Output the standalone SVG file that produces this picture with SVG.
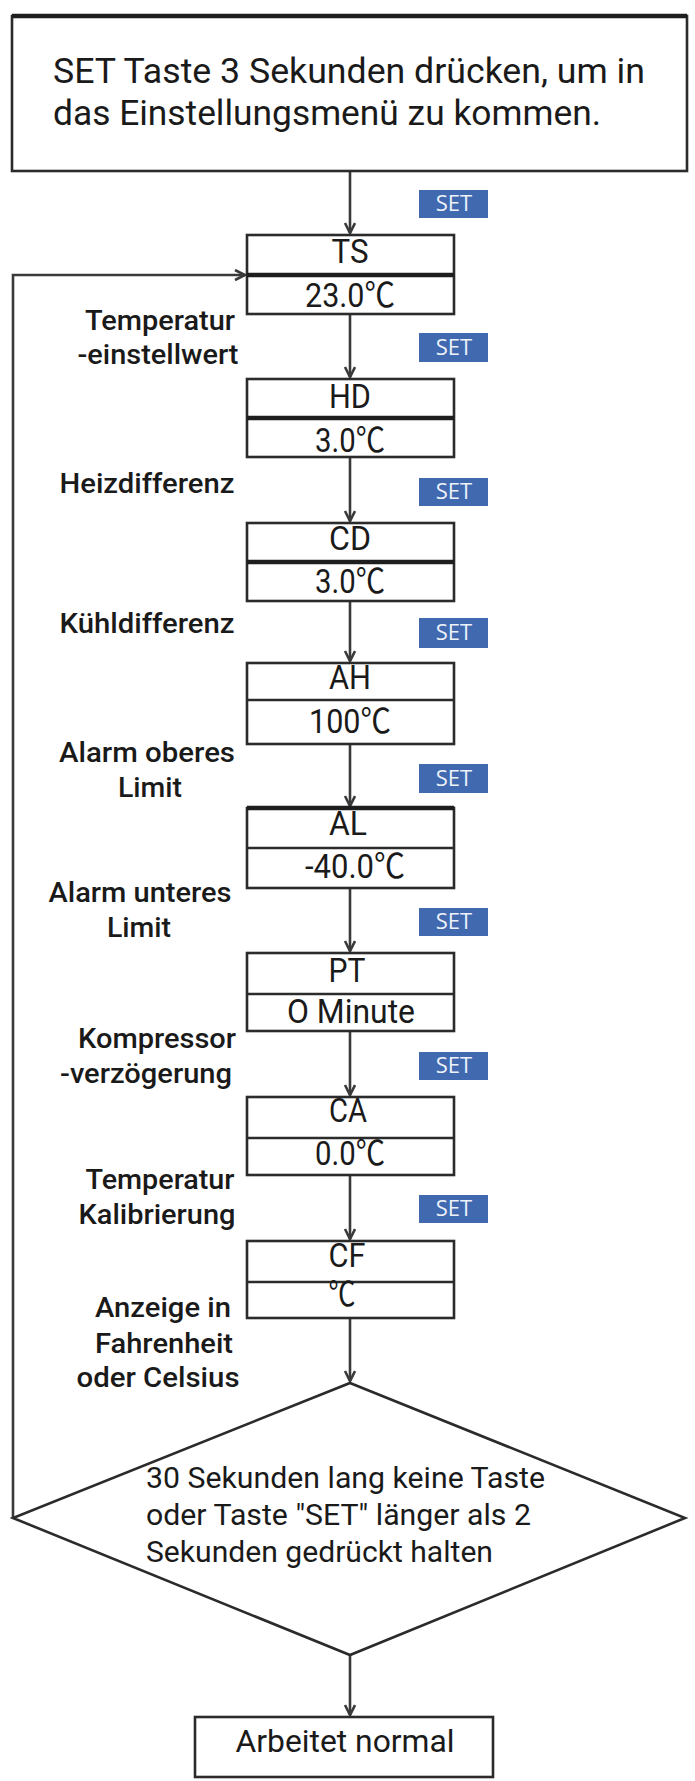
<svg xmlns="http://www.w3.org/2000/svg" width="695" height="1781" viewBox="0 0 695 1781">
<defs>
<marker id="arr" markerWidth="14" markerHeight="14" refX="11" refY="6" orient="auto" markerUnits="userSpaceOnUse">
<path d="M1,1 L11,6 L1,11" fill="none" stroke="#3a3a3a" stroke-width="2.6"/>
</marker>
</defs>
<style>
.box{fill:#fff;stroke:#2b2b2b;stroke-width:2.6}
.mid{stroke:#2b2b2b;stroke-width:2.6}
.thick{stroke:#1e1e1e;stroke-width:4.5}
.con{fill:none;stroke:#3a3a3a;stroke-width:2.6}
text{font-family:Roboto,"Liberation Sans","Noto Sans CJK SC",sans-serif;fill:#1a1a1a}
.bt{font-size:34px;text-anchor:middle}
.lb{font-size:28px;font-weight:500;text-anchor:middle}
.dt{font-size:29px}
.big{font-size:35px}
.badge{fill:#4069b0}
.st{font-family:"Open Sans","Liberation Sans",sans-serif;font-size:22px;fill:#eef2fa;text-anchor:middle}
</style>
<rect width="695" height="1781" fill="#fff"/>

<g id="connectors">
<line class="con" x1="350" y1="171" x2="350" y2="233" marker-end="url(#arr)"/>
<line class="con" x1="350" y1="314" x2="350" y2="377" marker-end="url(#arr)"/>
<line class="con" x1="350" y1="457" x2="350" y2="521" marker-end="url(#arr)"/>
<line class="con" x1="350" y1="601" x2="350" y2="661" marker-end="url(#arr)"/>
<line class="con" x1="350" y1="744" x2="350" y2="806" marker-end="url(#arr)"/>
<line class="con" x1="350" y1="888" x2="350" y2="951" marker-end="url(#arr)"/>
<line class="con" x1="350" y1="1031" x2="350" y2="1095" marker-end="url(#arr)"/>
<line class="con" x1="350" y1="1175" x2="350" y2="1239" marker-end="url(#arr)"/>
<line class="con" x1="350" y1="1318" x2="350" y2="1381" marker-end="url(#arr)"/>
<line class="con" x1="350" y1="1655" x2="350" y2="1715" marker-end="url(#arr)"/>
<polyline class="con" points="13,1518 13,275 245,275" marker-end="url(#arr)"/>
</g>

<g id="start">
<rect class="box" x="12" y="16" width="675" height="155"/>
<line class="thick" x1="12" y1="16" x2="687" y2="16"/>
<text class="big" x="53" y="83" textLength="592" lengthAdjust="spacingAndGlyphs">SET Taste 3 Sekunden drücken, um in</text>
<text class="big" x="53" y="125" textLength="548" lengthAdjust="spacingAndGlyphs">das Einstellungsmenü zu kommen.</text>
</g>

<g id="set-badges">
<rect class="badge" x="419" y="190" width="69" height="28"/><text class="st" x="454" y="211">SET</text>
<rect class="badge" x="419" y="333" width="69" height="29"/><text class="st" x="454" y="355">SET</text>
<rect class="badge" x="419" y="478" width="69" height="28"/><text class="st" x="454" y="499">SET</text>
<rect class="badge" x="419" y="618" width="69" height="30"/><text class="st" x="454" y="640">SET</text>
<rect class="badge" x="419" y="764" width="69" height="29"/><text class="st" x="454" y="786">SET</text>
<rect class="badge" x="419" y="908" width="69" height="28"/><text class="st" x="454" y="929">SET</text>
<rect class="badge" x="419" y="1052" width="69" height="28"/><text class="st" x="454" y="1073">SET</text>
<rect class="badge" x="419" y="1195" width="69" height="28"/><text class="st" x="454" y="1216">SET</text>
</g>

<g id="node-ts">
<rect class="box" x="247" y="235" width="207" height="79"/>
<line class="thick" x1="247" y1="275" x2="454" y2="275"/>
<text class="bt" x="350" y="263" textLength="37" lengthAdjust="spacingAndGlyphs">TS</text>
<text class="bt" x="350" y="307" textLength="90" lengthAdjust="spacingAndGlyphs">23.0℃</text>
<text class="lb" x="160" y="330" textLength="150" lengthAdjust="spacingAndGlyphs">Temperatur</text>
<text class="lb" x="158" y="364" textLength="161" lengthAdjust="spacingAndGlyphs">-einstellwert</text>
</g>

<g id="node-hd">
<rect class="box" x="247" y="379" width="207" height="78"/>
<line class="thick" x1="247" y1="418" x2="454" y2="418"/>
<text class="bt" x="350" y="408" textLength="42" lengthAdjust="spacingAndGlyphs">HD</text>
<text class="bt" x="350" y="452" textLength="70" lengthAdjust="spacingAndGlyphs">3.0℃</text>
<text class="lb" x="147" y="493" textLength="175" lengthAdjust="spacingAndGlyphs">Heizdifferenz</text>
</g>

<g id="node-cd">
<rect class="box" x="247" y="523" width="207" height="78"/>
<line class="thick" x1="247" y1="562" x2="454" y2="562"/>
<text class="bt" x="350" y="550" textLength="42" lengthAdjust="spacingAndGlyphs">CD</text>
<text class="bt" x="350" y="593" textLength="70" lengthAdjust="spacingAndGlyphs">3.0℃</text>
<text class="lb" x="147" y="633" textLength="175" lengthAdjust="spacingAndGlyphs">Kühldifferenz</text>
</g>

<g id="node-ah">
<rect class="box" x="247" y="663" width="207" height="81"/>
<line class="mid" x1="247" y1="700" x2="454" y2="700"/>
<text class="bt" x="350" y="689" textLength="42" lengthAdjust="spacingAndGlyphs">AH</text>
<text class="bt" x="350" y="733" textLength="82" lengthAdjust="spacingAndGlyphs">100℃</text>
<text class="lb" x="147" y="762" textLength="176" lengthAdjust="spacingAndGlyphs">Alarm oberes</text>
<text class="lb" x="150" y="797" textLength="64" lengthAdjust="spacingAndGlyphs">Limit</text>
</g>

<g id="node-al">
<rect class="box" x="247" y="808" width="207" height="80"/>
<line class="thick" x1="247" y1="808" x2="454" y2="808"/>
<line class="mid" x1="247" y1="848" x2="454" y2="848"/>
<text class="bt" x="348" y="835" textLength="38" lengthAdjust="spacingAndGlyphs">AL</text>
<text class="bt" x="355" y="878" textLength="100" lengthAdjust="spacingAndGlyphs">-40.0℃</text>
<text class="lb" x="140" y="902" textLength="183" lengthAdjust="spacingAndGlyphs">Alarm unteres</text>
<text class="lb" x="139" y="937" textLength="64" lengthAdjust="spacingAndGlyphs">Limit</text>
</g>

<g id="node-pt">
<rect class="box" x="247" y="953" width="207" height="78"/>
<line class="mid" x1="247" y1="994" x2="454" y2="994"/>
<text class="bt" x="347" y="982" textLength="37" lengthAdjust="spacingAndGlyphs">PT</text>
<text class="bt" x="351" y="1023" textLength="128" lengthAdjust="spacingAndGlyphs">O Minute</text>
<text class="lb" x="157" y="1048" textLength="158" lengthAdjust="spacingAndGlyphs">Kompressor</text>
<text class="lb" x="146" y="1083" textLength="172" lengthAdjust="spacingAndGlyphs">-verzögerung</text>
</g>

<g id="node-ca">
<rect class="box" x="247" y="1097" width="207" height="78"/>
<line class="mid" x1="247" y1="1138" x2="454" y2="1138"/>
<text class="bt" x="348" y="1122" textLength="38" lengthAdjust="spacingAndGlyphs">CA</text>
<text class="bt" x="350" y="1165" textLength="70" lengthAdjust="spacingAndGlyphs">0.0℃</text>
<text class="lb" x="160" y="1189" textLength="149" lengthAdjust="spacingAndGlyphs">Temperatur</text>
<text class="lb" x="157" y="1224" textLength="157" lengthAdjust="spacingAndGlyphs">Kalibrierung</text>
</g>

<g id="node-cf">
<rect class="box" x="247" y="1241" width="207" height="77"/>
<line class="mid" x1="247" y1="1282" x2="454" y2="1282"/>
<text class="bt" x="347" y="1267" textLength="37" lengthAdjust="spacingAndGlyphs">CF</text>
<text class="bt" x="342" y="1306" textLength="27" lengthAdjust="spacingAndGlyphs">℃</text>
<text class="lb" x="163" y="1317" textLength="136" lengthAdjust="spacingAndGlyphs">Anzeige in</text>
<text class="lb" x="164" y="1353" textLength="138" lengthAdjust="spacingAndGlyphs">Fahrenheit</text>
<text class="lb" x="158" y="1387" textLength="163" lengthAdjust="spacingAndGlyphs">oder Celsius</text>
</g>

<g id="decision">
<polygon class="box" points="350,1383 685,1518 350,1655 13,1518"/>
<text class="dt" x="146" y="1488" textLength="399" lengthAdjust="spacingAndGlyphs">30 Sekunden lang keine Taste</text>
<text class="dt" x="146" y="1525" textLength="385" lengthAdjust="spacingAndGlyphs">oder Taste "SET" länger als 2</text>
<text class="dt" x="146" y="1562" textLength="347" lengthAdjust="spacingAndGlyphs">Sekunden gedrückt halten</text>
</g>

<g id="end">
<rect class="box" x="195" y="1717" width="298" height="60"/>
<text class="bt" x="345" y="1752" style="font-size:31px" textLength="219" lengthAdjust="spacingAndGlyphs">Arbeitet normal</text>
</g>
</svg>
